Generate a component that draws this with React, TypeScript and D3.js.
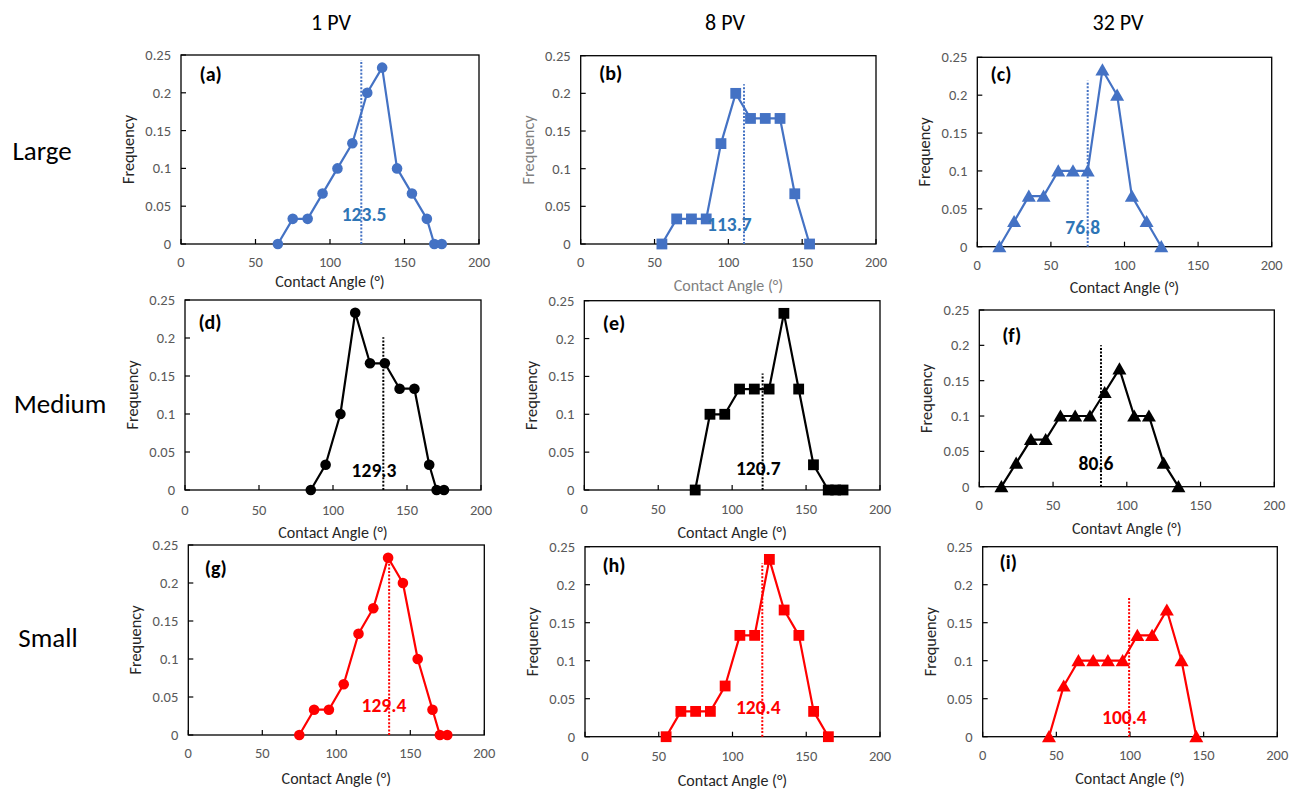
import React, { useEffect } from "react";
import * as d3 from "d3";

// ---------- data ----------
const columnHeaders = ["1 PV", "8 PV", "32 PV"];
const rowLabels = ["Large", "Medium", "Small"];
const panelIds = ["(a)", "(b)", "(c)", "(d)", "(e)", "(f)", "(g)", "(h)", "(i)"];

const xTicks = [0, 50, 100, 150, 200];
const yTicks = [0, 0.05, 0.1, 0.15, 0.2, 0.25];
const yTickLabels = ["0", "0.05", "0.1", "0.15", "0.2", "0.25"];

const anglesA = [65, 75, 85, 95, 105, 115, 125, 135, 145, 155, 165, 170, 175];
const freqA = [0, 0.0333, 0.0333, 0.0667, 0.1, 0.1333, 0.2, 0.2333, 0.1, 0.0667, 0.0333, 0, 0];
const anglesB = [55, 65, 75, 85, 95, 105, 115, 125, 135, 145, 155];
const freqB = [0, 0.0333, 0.0333, 0.0333, 0.1333, 0.2, 0.1667, 0.1667, 0.1667, 0.0667, 0];
const anglesC = [15, 25, 35, 45, 55, 65, 75, 85, 95, 105, 115, 125];
const freqC = [0, 0.0333, 0.0667, 0.0667, 0.1, 0.1, 0.1, 0.2333, 0.2, 0.0667, 0.0333, 0];
const anglesD = [85, 95, 105, 115, 125, 135, 145, 155, 165, 170, 175];
const freqD = [0, 0.0333, 0.1, 0.2333, 0.1667, 0.1667, 0.1333, 0.1333, 0.0333, 0, 0];
const anglesE = [75, 85, 95, 105, 115, 125, 135, 145, 155, 165, 170, 175];
const freqE = [0, 0.1, 0.1, 0.1333, 0.1333, 0.1333, 0.2333, 0.1333, 0.0333, 0, 0, 0];
const anglesF = [15, 25, 35, 45, 55, 65, 75, 85, 95, 105, 115, 125, 135];
const freqF = [0, 0.0333, 0.0667, 0.0667, 0.1, 0.1, 0.1, 0.1333, 0.1667, 0.1, 0.1, 0.0333, 0];
const anglesG = [75, 85, 95, 105, 115, 125, 135, 145, 155, 165, 170, 175];
const freqG = [0, 0.0333, 0.0333, 0.0667, 0.1333, 0.1667, 0.2333, 0.2, 0.1, 0.0333, 0, 0];
const anglesH = [55, 65, 75, 85, 95, 105, 115, 125, 135, 145, 155, 165];
const freqH = [0, 0.0333, 0.0333, 0.0333, 0.0667, 0.1333, 0.1333, 0.2333, 0.1667, 0.1333, 0.0333, 0];
const anglesI = [45, 55, 65, 75, 85, 95, 105, 115, 125, 135, 145];
const freqI = [0, 0.0667, 0.1, 0.1, 0.1, 0.1, 0.1333, 0.1333, 0.1667, 0.1, 0];

const seriesAngles = [anglesA, anglesB, anglesC, anglesD, anglesE, anglesF, anglesG, anglesH, anglesI];
const seriesFreq = [freqA, freqB, freqC, freqD, freqE, freqF, freqG, freqH, freqI];

// mean (dotted) line: angle and top frequency
const meanLineAngle = [121, 110.6, 75, 134, 120.6, 82.5, 135.7, 120.2, 99.4];
const meanLineTop = [0.243, 0.212, 0.219, 0.201, 0.154, 0.2, 0.232, 0.228, 0.184];
const meanLabels = ["123.5", "113.7", "76.8", "129.3", "120.7", "80.6", "129.4", "120.4", "100.4"];
const meanLabelAngle = [122.9, 100.7, 71.6, 127.7, 117.7, 79.1, 132.2, 117.5, 96.2];
const meanLabelFreq = [0.04, 0.027, 0.026, 0.026, 0.029, 0.033, 0.039, 0.039, 0.026];

const xTitles = [
  "Contact Angle (°)", "Contact Angle (°)", "Contact Angle (°)",
  "Contact Angle (°)", "Contact Angle (°)", "Contavt Angle (°)",
  "Contact Angle (°)", "Contact Angle (°)", "Contact Angle (°)",
];
const yTitle = "Frequency";

// ---------- layout / styles ----------
const rowColor = ["#4472C4", "#000000", "#FF0000"];
const rowLabelColor = ["#2E75B6", "#000000", "#FF0000"];
const colMarker = ["circle", "square", "triangle"];

// box: [left, right, top(0.25), bottom(0)]
const boxes = [
  [181, 479, 55, 244],
  [580.7, 876, 55.7, 244],
  [977.3, 1271.7, 57.3, 246.7],
  [185, 481, 300, 490],
  [584.3, 880, 300.7, 490],
  [979.3, 1274.3, 310, 486.7],
  [188.3, 484.3, 545, 735],
  [585, 880, 546.7, 736.7],
  [982.7, 1277.3, 546.7, 736.7],
];
const idPos = [
  [210.7, 74.3], [610.7, 73.3], [1001, 74.3],
  [210, 321.7], [614, 322.7], [1011.7, 335],
  [215.7, 567.7], [614, 565], [1008.3, 561.7],
];
const tickLabelY = [262, 262, 265, 510, 509, 505, 753, 756, 755];
const xTitleY = [281, 285, 287, 532, 532, 528, 778, 780, 778];
const headerX = [331, 725, 1118];
const rowLabelPos = [[42, 150], [60, 403], [48, 637]];

const FONT = "Carlito, Lato, 'Open Sans', sans-serif";

function Panel({ i }: { i: number }) {
  const [l, r, t, b] = boxes[i];
  const row = Math.floor(i / 3);
  const col = i % 3;
  const color = rowColor[row];
  const x = d3.scaleLinear().domain([0, 200]).range([l, r]);
  const y = d3.scaleLinear().domain([0, 0.25]).range([b, t]);
  const pts = seriesAngles[i].map((a, k) => [a, seriesFreq[i][k]] as [number, number]);
  const line = d3.line<[number, number]>().x((d) => x(d[0])).y((d) => y(d[1]));
  const titleColor = i === 1 ? "#7F7F7F" : "#262626";
  const marker = colMarker[col];
  const tri = d3.symbol().type(d3.symbolTriangle).size(85)();

  return (
    <g>
      <rect x={l} y={t} width={r - l} height={b - t} fill="white" stroke="#000" strokeWidth={1.3} />
      {yTicks.map((v, k) => (
        <g key={"y" + k}>
          <line x1={l} x2={l + 5} y1={y(v)} y2={y(v)} stroke="#000" strokeWidth={1.2} />
          <text x={l - 10} y={y(v)} textAnchor="end" dominantBaseline="central" fontSize={14.5} fill="#595959" fontFamily={FONT}>
            {yTickLabels[k]}
          </text>
        </g>
      ))}
      {xTicks.map((v, k) => (
        <g key={"x" + k}>
          <line x1={x(v)} x2={x(v)} y1={b} y2={b - 5} stroke="#000" strokeWidth={1.2} />
          <text x={x(v)} y={tickLabelY[i]} textAnchor="middle" dominantBaseline="central" fontSize={14.5} fill="#595959" fontFamily={FONT}>
            {v}
          </text>
        </g>
      ))}
      <text x={(l + r) / 2} y={xTitleY[i]} textAnchor="middle" dominantBaseline="central" fontSize={16} fill={titleColor} fontFamily={FONT}>
        {xTitles[i]}
      </text>
      <text
        transform={`translate(${l - 53},${(t + b) / 2}) rotate(-90)`}
        textAnchor="middle"
        dominantBaseline="central"
        fontSize={16.3}
        fill={titleColor}
        fontFamily={FONT}
      >
        {yTitle}
      </text>
      <text x={idPos[i][0]} y={idPos[i][1]} textAnchor="middle" dominantBaseline="central" fontSize={20} fontWeight="bold" fill="#000" fontFamily={FONT}>
        {panelIds[i]}
      </text>
      <path d={line(pts) || ""} fill="none" stroke={color} strokeWidth={2.2} strokeLinejoin="round" />
      {pts.map((d, k) => {
        const cx = x(d[0]);
        const cy = y(d[1]);
        if (marker === "circle") return <circle key={k} cx={cx} cy={cy} r={5.3} fill={color} />;
        if (marker === "square") return <rect key={k} x={cx - 5.4} y={cy - 5.4} width={10.8} height={10.8} fill={color} />;
        return <path key={k} d={tri || ""} transform={`translate(${cx},${cy + 1.5})`} fill={color} />;
      })}
      <line
        x1={x(meanLineAngle[i])}
        x2={x(meanLineAngle[i])}
        y1={y(0)}
        y2={y(meanLineTop[i])}
        stroke={color}
        strokeWidth={2}
        strokeDasharray="2,1.6"
      />
      <text
        x={x(meanLabelAngle[i])}
        y={y(meanLabelFreq[i])}
        textAnchor="middle"
        dominantBaseline="central"
        fontSize={19.5}
        fontWeight="bold"
        fill={rowLabelColor[row]}
        fontFamily={FONT}
      >
        {meanLabels[i]}
      </text>
    </g>
  );
}

export default function App() {
  useEffect(() => {
    document.body.style.margin = "0";
  }, []);
  return (
    <svg width={1301} height={789} style={{ display: "block", position: "absolute", left: 0, top: 0, background: "white" }}>
      <rect x={0} y={0} width={1301} height={789} fill="white" />
      {columnHeaders.map((h, k) => (
        <text key={h} x={headerX[k]} y={22} textAnchor="middle" dominantBaseline="central" fontSize={22} fill="#000" fontFamily={FONT}>
          {h}
        </text>
      ))}
      {rowLabels.map((h, k) => (
        <text key={h} x={rowLabelPos[k][0]} y={rowLabelPos[k][1]} textAnchor="middle" dominantBaseline="central" fontSize={27} fill="#000" fontFamily={FONT}>
          {h}
        </text>
      ))}
      {panelIds.map((_, i) => (
        <Panel key={i} i={i} />
      ))}
    </svg>
  );
}
